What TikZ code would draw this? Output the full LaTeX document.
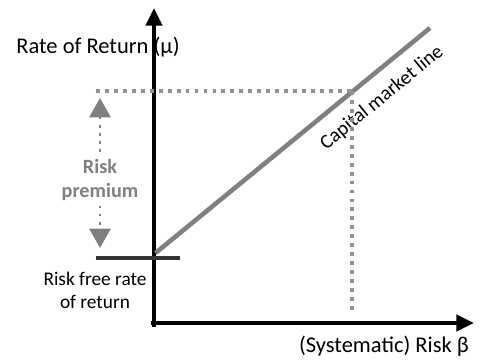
\documentclass[tikz,border=0pt]{standalone}
\usepackage{fontspec}
\setmainfont{Carlito}
\usepackage{tikz}
\usetikzlibrary{arrows.meta,positioning,calc}

\tikzset{
  axis/.style={line width=2.8pt,-{Triangle[length=10pt,width=9pt]}},
  guide/.style={gray!85,line width=2.2pt,dash pattern=on 2.2pt off 2.9pt},
  premium/.style={gray,line width=1.6pt,dash pattern=on 1.6pt off 3pt,
    {Triangle[length=11pt,width=12pt]}-{Triangle[length=11pt,width=12pt]}},
  lbl/.style={font=\fontsize{11}{13}\selectfont,align=center,inner sep=1pt},
  biglbl/.style={font=\fontsize{12.8}{15}\selectfont,inner sep=1pt}
}

\begin{document}
\begin{tikzpicture}
\useasboundingbox (-3.08,-0.74) rectangle (6.56,6.46);

% axes
\coordinate (O) at (0,0);
\coordinate (ytop) at (0,6.3);
\coordinate (xend) at (6.4,0);
\draw[axis] (0,-0.08) -- (ytop);
\draw[axis] (-0.05,0) -- (xend);
\node[biglbl,anchor=north east] (xlab) at (6.34,-0.22) {(Systematic) Risk β};
\node[biglbl] (ylab) at (-1.12,5.52) {Rate of Return (μ)};

% risk free rate
\coordinate (rfL) at (-1.16,1.3);
\coordinate (rfR) at (0.52,1.3);
\draw[black!80,line width=2.2pt] (rfL) -- (rfR);
\node[lbl] (rflab) at (-1.18,0.66) {Risk free rate\\of return};

% capital market line
\coordinate (cmlA) at (0.03,1.4);
\coordinate (cmlB) at (5.52,5.9);
\draw[gray,line width=2.6pt] (cmlA) -- (cmlB);
\node[lbl,font=\fontsize{11.4}{13}\selectfont,rotate=39.3] (cmllab) at (4.56,4.5) {Capital market line};

% market portfolio guides
\coordinate (mp) at (3.96,4.64);
\coordinate (mpL) at (-1.16,4.64);
\coordinate (mpD) at (3.96,0.16);
\draw[guide] (mpL) -- (mp);
\draw[guide] (mp) -- (mpD);

% risk premium
\coordinate (rpT) at (-1.08,4.5);
\coordinate (rpB) at (-1.08,1.5);
\draw[premium] (rpT) -- (rpB);
\node[lbl,fill=white,text=gray,font=\fontsize{11.5}{14}\selectfont\bfseries,inner sep=3pt] (rplab) at (-1.08,2.86) {Risk\\premium};
\end{tikzpicture}
\end{document}
